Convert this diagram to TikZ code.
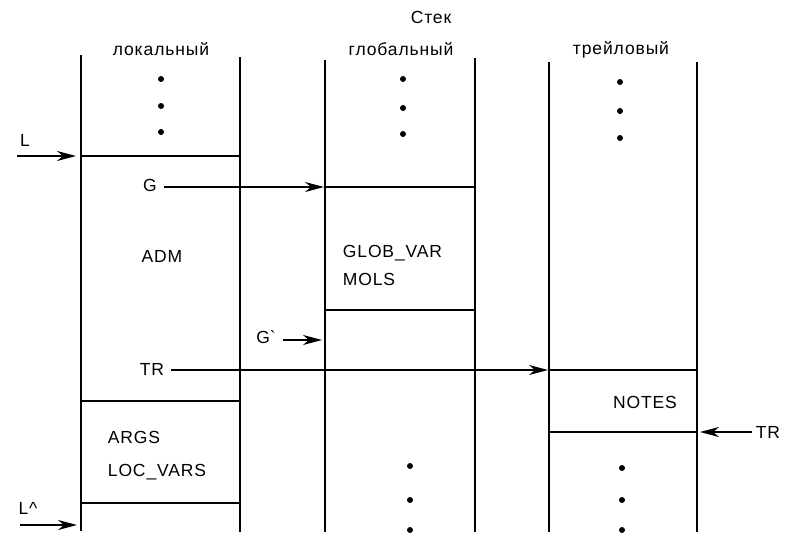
\documentclass[tikz,border=0pt]{standalone}
\usepackage{fontspec}
\setmainfont[LetterSpace=5]{Liberation Sans}
\usetikzlibrary{arrows.meta}

\begin{document}
\begin{tikzpicture}[x=1pt,y=-1pt,line width=1.8pt,
  every node/.style={font=\fontsize{17.5}{20}\selectfont,inner sep=1pt},
  ptr/.style={-{Stealth[length=19pt,width=10pt,inset=6pt]}}]
\useasboundingbox (0,0) rectangle (799,536);
% column walls
\draw (81,55)--(81,531) (240,57)--(240,532);
\draw (325,60)--(325,532) (475,58)--(475,532);
\draw (549,62)--(549,532) (697,62)--(697,532);
% frame borders
\draw (81,156)--(240,156) (81,401)--(240,401) (81,503)--(240,503);
\draw (325,187)--(475,187) (325,310)--(475,310);
\draw (549,370)--(697,370) (549,432)--(697,432);
% titles
\node (stack) at (431,17) {Стек};
\node (loc) at (161,49) {локальный};
\node (glob) at (401,49) {глобальный};
\node (trail) at (621,50) {трейловый};
% dots
\foreach \x/\ya/\yb/\yc in {161/79/106/132,403/79/108/134,620/82/111/138,410/466/500/530,622/468/500/530}
  \foreach \y in {\ya,\yb,\yc} \fill (\x,\y) circle (3pt);
% frame contents
\node (adm) at (162,256) {ADM};
\node[anchor=west] (globvar) at (341,253) {GLOB\_VAR};
\node[anchor=west] (mols) at (341,279) {MOLS};
\node (notes) at (645,402) {NOTES};
\node[anchor=west] (args) at (106,437) {ARGS};
\node[anchor=west] (locvars) at (106,472) {LOC\_VARS};
% pointers
\node (l) at (25,140) {L};
\coordinate (ls) at (17,156); \coordinate (le) at (76,156);
\draw[ptr] (ls)--(le);
\node (lh) at (28,508) {L\textasciicircum};
\coordinate (lhs) at (20,525); \coordinate (lhe) at (77,525);
\draw[ptr] (lhs)--(lhe);
\node (g) at (150,185) {G};
\coordinate (ge) at (324,187);
\draw[ptr] ([xshift=5pt]g.east|-ge)--(ge);
\node (gp) at (266,337) {G\textasciigrave};
\coordinate (gpe) at (322,340);
\draw[ptr] ([xshift=5pt]gp.east|-gpe)--(gpe);
\node (tr) at (152,369) {TR};
\coordinate (tre) at (548,370);
\draw[ptr] ([xshift=5pt]tr.east|-tre)--(tre);
\node (trr) at (768,432) {TR};
\coordinate (trre) at (700,432);
\draw[ptr] ([xshift=-2pt]trr.west)--(trre);
\end{tikzpicture}
\end{document}
